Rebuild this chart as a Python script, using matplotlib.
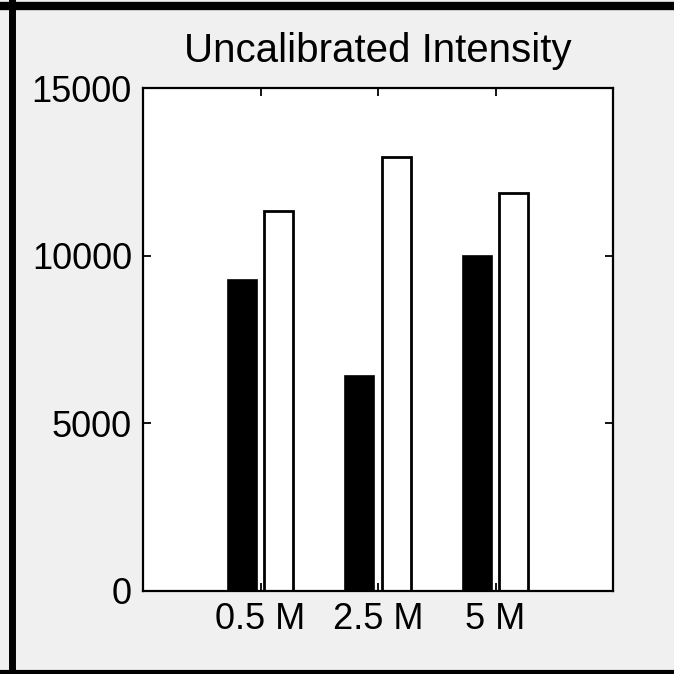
import numpy as np
import matplotlib.pyplot as plt
from matplotlib.lines import Line2D

plt.rcParams['font.family'] = ['Liberation Sans', 'DejaVu Sans']

# data
groups = ['0.5 M', '2.5 M', '5 M']
dark_vals = [9280, 6410, 10000]
light_vals = [11340, 12950, 11880]
y_ticks = [0, 5000, 10000, 15000]

W = 674
fig = plt.figure(figsize=(6.74, 6.74), dpi=100, facecolor='#f0f0f0')
ax = fig.add_axes([143 / W, 1 - 591 / W, 470 / W, 503 / W])
ax.set_facecolor('white')

x = np.arange(1, len(groups) + 1)
bw = 0.25
ax.bar(x - 0.155, dark_vals, bw, color='black', edgecolor='black', linewidth=1.2)
ax.bar(x + 0.155, light_vals, bw, color='white', edgecolor='black', linewidth=2)

ax.set_xlim(0, 4)
ax.set_ylim(0, 15000)
ax.set_xticks(x)
ax.set_xticklabels(groups)
ax.set_yticks(y_ticks)
ax.set_yticklabels([str(v) for v in y_ticks])
ax.tick_params(direction='in', length=6, width=1.3, labelsize=26,
               top=True, right=True, pad=8)
for s in ax.spines.values():
    s.set_linewidth(1.6)
ax.set_title('Uncalibrated Intensity', fontsize=29, pad=19)

# dark frame around the screenshot (left, top, bottom)
fig.add_artist(Line2D([12 / W, 12 / W], [0, 1], color='black', lw=5))
fig.add_artist(Line2D([0, 1], [1 - 6 / W, 1 - 6 / W], color='black', lw=6))
fig.add_artist(Line2D([0, 1], [1 - 672 / W, 1 - 672 / W], color='black', lw=3))

fig.savefig('out.png', dpi=100, facecolor=fig.get_facecolor())
